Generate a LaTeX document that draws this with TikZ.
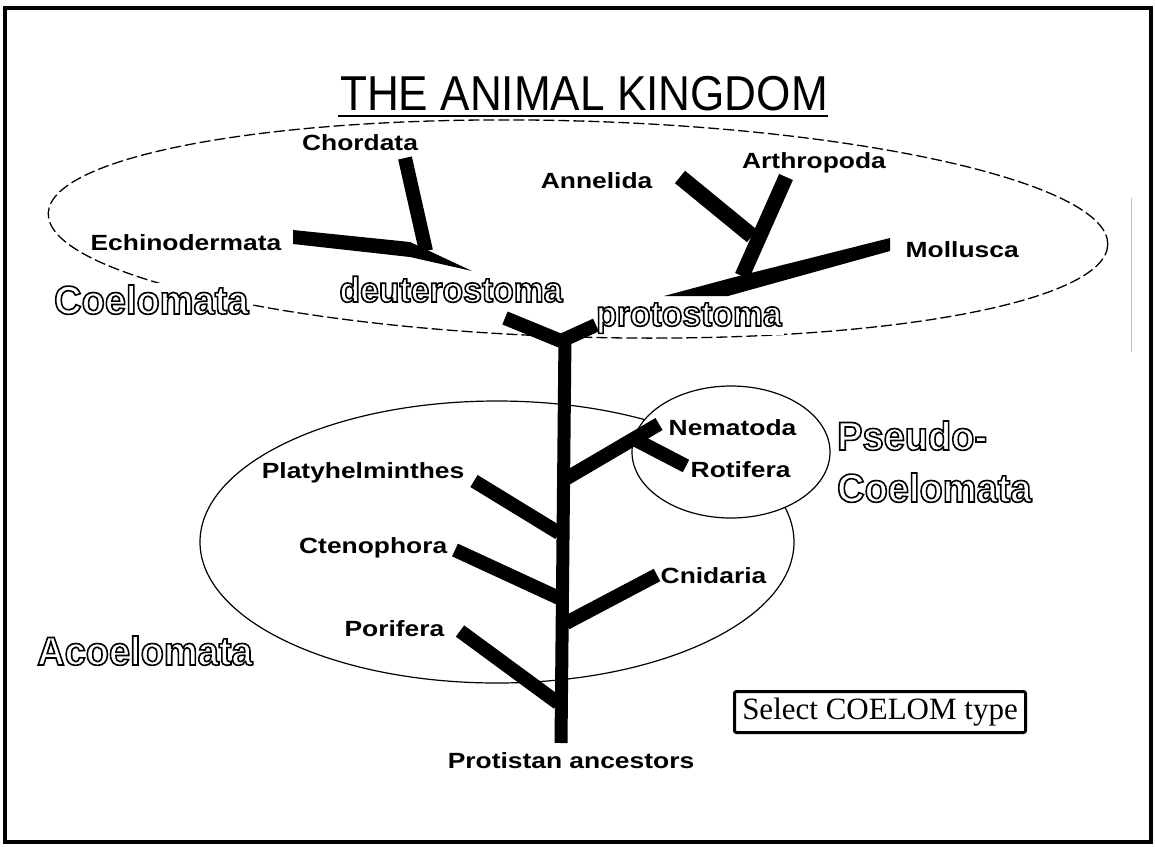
\documentclass[tikz,border=0pt]{standalone}
\usepackage{fontspec}
\setmainfont{Liberation Serif}
\newfontfamily\titlefont[FakeStretch=0.9]{Liberation Sans}
\newfontfamily\taxafont[FakeStretch=1.2]{Liberation Sans}
\newfontfamily\hollowfont[FakeStretch=0.95]{Liberation Sans}
% outlined letters: stroke only (text render mode 1)
\newcommand{\hollowtext}[1]{\special{pdf:code q 1 Tr 1.6 w}#1\special{pdf:code Q}}
\usetikzlibrary{positioning}

\begin{document}
\begin{tikzpicture}[x=1pt, y=-1pt,
  taxon/.style={font=\taxafont\bfseries\fontsize{22}{26}\selectfont, inner sep=1.5pt, fill=white},
  group/.style={font=\hollowfont\bfseries\fontsize{40}{44}\selectfont, inner sep=2pt, fill=white},
  subgroup/.style={group, font=\hollowfont\bfseries\fontsize{35.5}{40}\selectfont},
  branch/.style={line width=14pt}]
\useasboundingbox (0,0) rectangle (1155,846);
\fill[white] (0,0) rectangle (1155,846);
\draw[line width=3.5pt] (5,8) rectangle (1151,842);
\draw[gray!50, line width=0.8pt] (1131,198) -- (1131,352);

% title
\node[font=\titlefont\fontsize{49}{52}\selectfont, anchor=base, inner sep=0pt] (title) at (584,110) {THE ANIMAL KINGDOM};
\draw[line width=1.5pt] (338,116) -- (828,116);

% coelom regions
\draw[line width=1.3pt, dash pattern=on 11pt off 4pt, rotate around={-1.7:(578,229)}] (578,229) ellipse [x radius=530, y radius=108];
\draw[line width=1.2pt] (497,542) ellipse [x radius=297, y radius=141];
\draw[line width=1.2pt, fill=white] (731,452) ellipse [x radius=99, y radius=66];

% group labels
\node[group, anchor=base west] (coel) at (52,314) {\hollowtext{Coelomata}};
\node[subgroup, anchor=base] (deut) at (451,302) {\hollowtext{deuterostoma}};
\node[subgroup, anchor=base west] (prot) at (594,326) {\hollowtext{protostoma}};
\node[group, anchor=base west] (pseudoA) at (835,450) {\hollowtext{Pseudo-}};
\node[group, anchor=base west] (pseudoB) at (835,502) {\hollowtext{Coelomata}};
\node[group, anchor=base west] (acoel) at (35,665) {\hollowtext{Acoelomata}};

% phyla
\node[taxon, anchor=base] (chord) at (360,150) {Chordata};
\node[taxon, anchor=base east] (echin) at (283,250) {Echinodermata};
\node[taxon, anchor=base east] (annel) at (654,188) {Annelida};
\node[taxon, anchor=base] (arthr) at (814,168) {Arthropoda};
\node[taxon, anchor=base west] (mollu) at (904,257) {Mollusca};
\node[taxon, anchor=base east] (platy) at (466,478) {Platyhelminthes};
\node[taxon, anchor=base east] (cteno) at (449,553) {Ctenophora};
\node[taxon, anchor=base east] (porif) at (446,636) {Porifera};
\node[taxon, anchor=base west] (nemat) at (667,435) {Nematoda};
\node[taxon, anchor=base west] (rotif) at (689,477) {Rotifera};
\node[taxon, anchor=base west] (cnida) at (659,583) {Cnidaria};
\node[taxon, anchor=base, fill=none] (prot0) at (571,768) {Protistan ancestors};

\node[draw, line width=3pt, rounded corners=2pt, minimum width=291pt, minimum height=41pt,
  inner sep=0pt, font=\fontsize{31}{34}\selectfont] (select) at (880,712) {Select COELOM type};

% tree
\coordinate (top) at (561,341);
\coordinate (base) at (561,743);
\draw[line width=13pt] (565,335) -- (base);
\draw[branch] (505,318) -- (top);
\draw[branch] (top) -- (596,325);

\fill (293,230) -- (410,242) -- (472,271) -- (410,257) -- (293,244) -- cycle;
\draw[branch] (405,158) -- (426,251);

\fill (664,296) -- (735,277) -- (890,238) -- (890,251) -- (728,296) -- cycle;
\draw[line width=16pt] (680,177) -- (752,236);
\draw[line width=15pt] (786,177) -- (742,276);

\draw[branch] (474,481) -- (559,533);
\draw[branch] (455,550) -- (559,598);
\draw[branch] (460,631) -- (558,703);
\draw[branch] (566,623) -- (657,575);
\draw[branch] (567,478) -- (659,424);
\draw[branch] (636,440) -- (686,466);
\end{tikzpicture}
\end{document}
